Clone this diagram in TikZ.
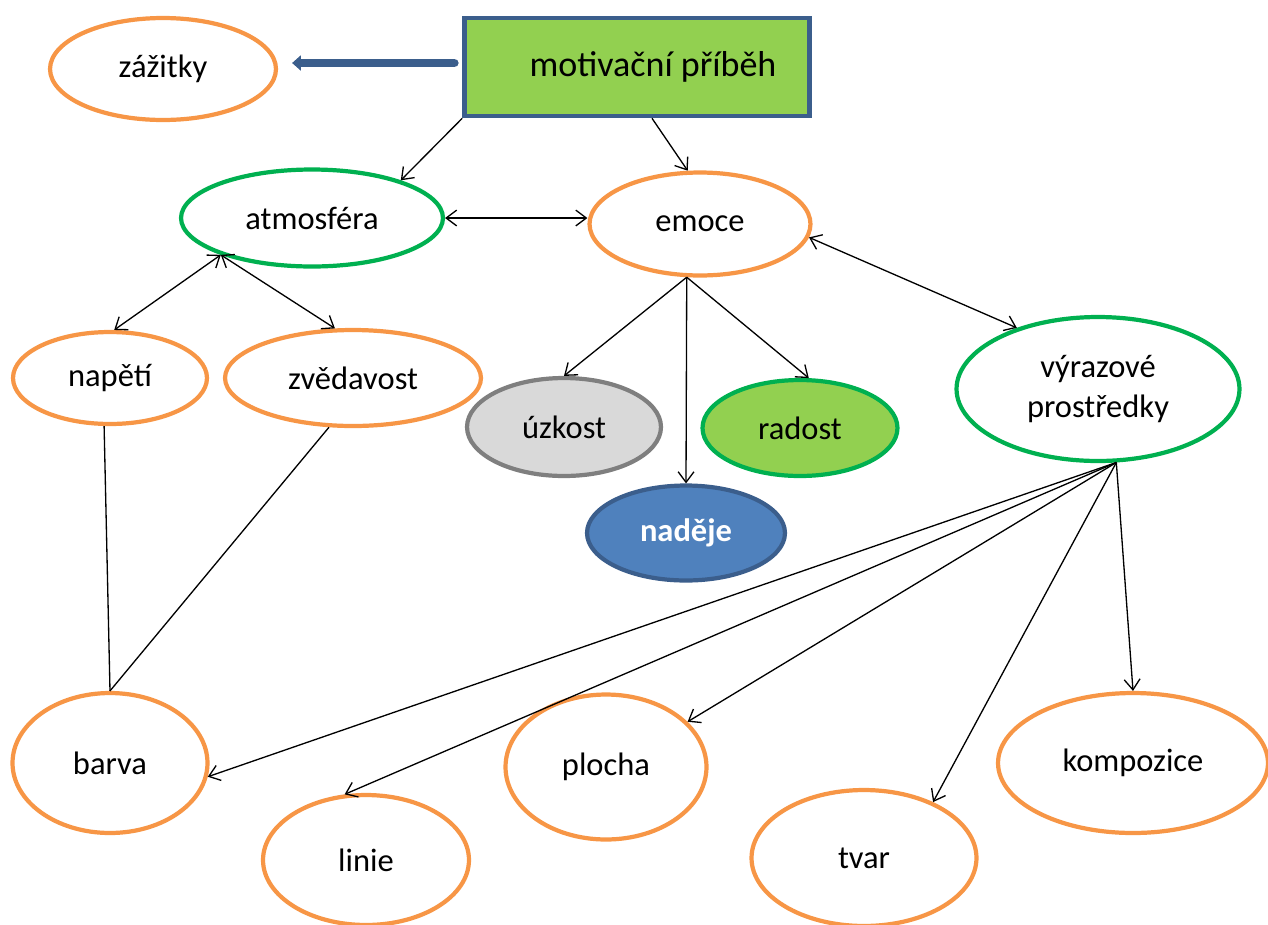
\documentclass[tikz,border=0pt]{standalone}
\usepackage{fontspec}
\setmainfont{Carlito}
\usetikzlibrary{shapes.geometric,arrows.meta}
\definecolor{mporange}{HTML}{F79646}
\definecolor{mpgreen}{HTML}{00B050}
\definecolor{mplime}{HTML}{92D050}
\definecolor{mpblue}{HTML}{3B5E8C}
\definecolor{mpsky}{HTML}{4F81BD}
\definecolor{mpgrey}{HTML}{7F7F7F}
\definecolor{mpsilver}{HTML}{D9D9D9}

\begin{document}
\begin{tikzpicture}[
            x=0.02cm, y=-0.02cm,
            oval/.style={ellipse, draw=mporange, line width=2.4pt, fill=white, inner sep=0pt, align=center, font=\fontsize{18.5}{23}\selectfont},
            greenoval/.style={oval, draw=mpgreen},
            arrow/.style={-{Straight Barb[length=6pt,width=9pt]}, line width=0.75pt},
            biarrow/.style={{Straight Barb[length=6pt,width=9pt]}-{Straight Barb[length=6pt,width=9pt]}, line width=0.75pt},
            link/.style={line width=0.75pt},
            fatarrow/.style={-{Triangle[length=5pt,width=8.5pt]}, line width=5pt, mpblue, line cap=round}
        ]
            \useasboundingbox (0,0) rectangle (1268,924);

            % Story and experiences
            \node[draw=mpblue, fill=mplime, line width=2.6pt, minimum width=6.9cm, minimum height=1.96cm, font=\fontsize{20.5}{24}\selectfont] (motiv) at (637,67) {\hspace*{0.64cm}motivační příběh};
            \node[oval, minimum width=4.52cm, minimum height=2.04cm] (zazitky) at (163,69) {zážitky};
            \draw[fatarrow] ([shift={(-0.16cm,0.08cm)}]motiv.west) -- ([shift={(0.28cm,0.08cm)}]motiv.west -| zazitky.east);

            % Atmosphere and emotions
            \node[greenoval, minimum width=5.24cm, minimum height=1.94cm] (atmos) at (312,218) {atmosféra};
            \node[oval, minimum width=4.42cm, minimum height=2.06cm] (emoce) at (700,224) {emoce};
            \node[oval, minimum width=3.88cm, minimum height=1.84cm] (napeti) at (110,378) {napětí};
            \node[oval, minimum width=5.12cm, minimum height=1.92cm] (zved) at (353,378) {zvědavost};
            \node[oval, draw=mpgrey, fill=mpsilver, minimum width=3.88cm, minimum height=1.96cm] (uzkost) at (564,427) {úzkost};
            \node[greenoval, fill=mplime, minimum width=3.9cm, minimum height=1.92cm] (radost) at (800,428) {radost};
            \node[oval, draw=mpblue, fill=mpsky, text=white, font=\fontsize{18.5}{23}\selectfont\bfseries, minimum width=3.96cm, minimum height=1.9cm] (nadeje) at (686,533) {naděje};
            \node[greenoval, minimum width=5.66cm, minimum height=2.88cm] (vyraz) at (1098,389) {výrazové\\prostředky};

            % Means of expression
            \node[oval, minimum width=3.9cm, minimum height=2.8cm] (barva) at (110,763) {barva};
            \node[oval, minimum width=4.12cm, minimum height=2.6cm] (linie) at (366,860) {linie};
            \node[oval, minimum width=4.02cm, minimum height=2.9cm] (plocha) at (606,767) {plocha};
            \node[oval, minimum width=4.5cm, minimum height=2.72cm] (tvar) at (864,858) {tvar};
            \node[oval, minimum width=5.4cm, minimum height=2.8cm] (kompozice) at (1133,763) {kompozice};

            % Connections
            \draw[arrow] (motiv.south west) -- (atmos.23);
            \draw[arrow] ([xshift=0.3cm]motiv.south) -- (emoce.103);
            \draw[biarrow] (atmos.east) -- (atmos.east -| emoce.west);
            \draw[biarrow] (atmos.202) -- (napeti.85);
            \draw[biarrow] (atmos.202) -- (zved.110);
            \draw[biarrow] (emoce.353) -- (vyraz.143);
            \draw[arrow] (emoce.256) -- (uzkost.north);
            \draw[arrow] (emoce.256) -- (nadeje.north);
            \draw[arrow] (emoce.256) -- (radost.80);
            \draw[link] (napeti.263) -- (barva.north);
            \draw[link] (zved.244) -- (barva.north);
            \draw[arrow] (vyraz.284) -- (barva.-8);
            \draw[arrow] (vyraz.284) -- (linie.108);
            \draw[arrow] (vyraz.284) -- (plocha.29);
            \draw[arrow] (vyraz.284) -- (tvar.39);
            \draw[arrow] (vyraz.284) -- (kompozice.north);
        \end{tikzpicture}
\end{document}
